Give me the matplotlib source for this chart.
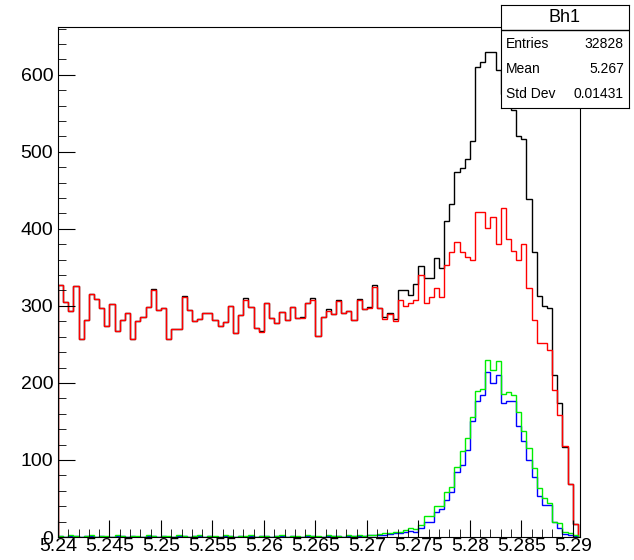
import numpy as np
import matplotlib.pyplot as plt
from matplotlib.ticker import MultipleLocator

plt.rcParams["font.family"] = ["Liberation Sans", "DejaVu Sans"]

# =============================
# Data (bin contents), bins of 0.0005 from 5.24
# =============================
X_MIN = 5.24
BIN_W = 0.0005

black = [327, 305, 293, 326, 257, 282, 316, 309, 297, 274,
         303, 268, 282, 291, 257, 281, 286, 299, 322, 295,
         297, 257, 270, 270, 313, 295, 281, 283, 291, 291,
         282, 274, 279, 300, 265, 288, 310, 299, 271, 268,
         304, 284, 278, 292, 282, 299, 284, 286, 304, 310,
         261, 285, 296, 290, 308, 291, 293, 282, 309, 296,
         299, 327, 297, 285, 291, 283, 320, 321, 314, 328,
         352, 336, 336, 362, 349, 410, 432, 474, 479, 491,
         514, 610, 616, 630, 630, 606, 575, 560, 554, 521,
         516, 439, 370, 313, 300, 297, 210, 174, 117, 69, 17]
red = [327, 305, 293, 326, 257, 282, 316, 309, 297, 274,
       303, 268, 282, 291, 257, 281, 286, 299, 320, 295,
       297, 257, 270, 270, 311, 295, 281, 283, 291, 291,
       282, 274, 279, 300, 265, 288, 308, 299, 271, 266,
       304, 284, 278, 292, 282, 299, 284, 284, 304, 308,
       261, 285, 294, 290, 306, 291, 293, 282, 307, 296,
       297, 325, 297, 283, 289, 281, 307, 300, 304, 308,
       340, 304, 312, 323, 312, 353, 370, 383, 370, 363,
       359, 422, 422, 401, 415, 380, 427, 387, 371, 360,
       380, 323, 282, 252, 252, 243, 191, 158, 118, 69, 17]
green = [1, 0, 2, 1, 0, 1, 2, 0, 1, 1,
         0, 2, 1, 0, 1, 1, 0, 2, 1, 0,
         1, 1, 0, 2, 1, 0, 1, 2, 0, 1,
         1, 0, 2, 1, 0, 1, 1, 2, 0, 1,
         1, 0, 1, 2, 0, 1, 1, 0, 2, 1,
         1, 0, 2, 1, 1, 0, 2, 1, 2, 1,
         3, 2, 4, 5, 5, 7, 7, 9, 12, 10,
         15, 27, 27, 40, 40, 58, 65, 91, 111, 128,
         156, 190, 192, 230, 217, 228, 186, 188, 184, 162,
         137, 116, 90, 64, 51, 44, 19, 18, 6, 5, 2]
blue = [1, 0, 1, 1, 0, 1, 1, 0, 1, 0,
        0, 1, 1, 0, 1, 0, 0, 1, 1, 0,
        1, 0, 0, 1, 1, 0, 1, 1, 0, 1,
        0, 0, 1, 1, 0, 1, 0, 1, 0, 1,
        1, 0, 1, 1, 0, 1, 0, 0, 1, 1,
        0, 0, 1, 1, 1, 0, 1, 1, 1, 1,
        2, 2, 3, 3, 4, 5, 5, 7, 8, 7,
        12, 20, 20, 33, 36, 48, 58, 85, 93, 113,
        150, 176, 184, 214, 200, 210, 174, 176, 176, 144,
        124, 100, 78, 53, 41, 41, 20, 12, 4, 3, 1]

edges = X_MIN + BIN_W * np.arange(len(black) + 1)

# =============================
# Plot
# =============================
fig = plt.figure(figsize=(6.34, 5.60), dpi=100)
ax = fig.add_axes([58 / 634, 23 / 560, 522 / 634, 510 / 560])

for vals, col in [(black, "black"), (red, "red"), (blue, "blue"), (green, "#00ee00")]:
    ax.stairs(vals, edges, color=col, lw=1.0)

ax.set_xlim(5.24, 5.2907)
ax.set_ylim(0, 662)
ax.xaxis.set_major_locator(MultipleLocator(0.005))
ax.xaxis.set_minor_locator(MultipleLocator(0.001))
ax.yaxis.set_major_locator(MultipleLocator(100))
ax.yaxis.set_minor_locator(MultipleLocator(20))
ax.xaxis.set_major_formatter(lambda v, p: ("%.3f" % v).rstrip("0").rstrip("."))
ax.tick_params(which="both", direction="in", top=False, right=False, labelsize=14)
ax.tick_params(which="major", length=12)
ax.tick_params(which="minor", length=6)
ax.tick_params(axis="x", pad=1)

# stats box
bx = fig.add_axes([501 / 634, 452 / 560, 128 / 634, 103 / 560])
bx.set_xticks([])
bx.set_yticks([])
bx.set_xlim(0, 1)
bx.set_ylim(0, 1)
bx.axhline(0.76, color="black", lw=1)
bx.text(0.5, 0.88, "Bh1", ha="center", va="center", fontsize=13)
rows = [("Entries", "32828"), ("Mean", "5.267"), ("Std Dev", "0.01431")]
for i, (k, v) in enumerate(rows):
    y = 0.62 - i * 0.24
    bx.text(0.04, y, k, ha="left", va="center", fontsize=10)
    bx.text(0.96, y, v, ha="right", va="center", fontsize=10)

fig.savefig("out.png", dpi=100)
